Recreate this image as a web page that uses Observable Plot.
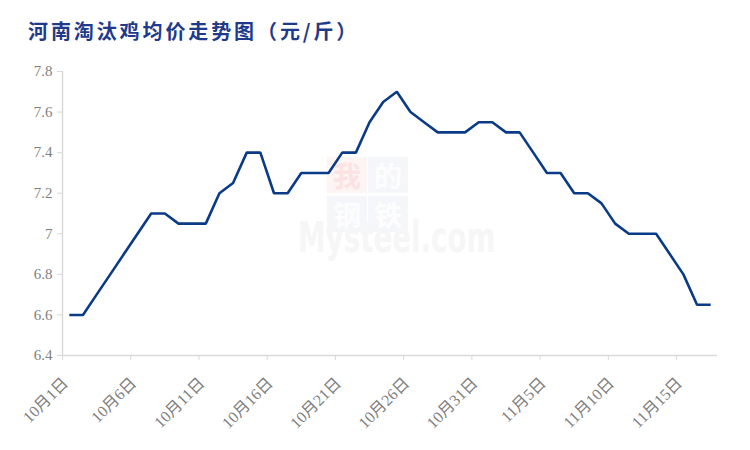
<!DOCTYPE html>
<html>
<head>
<meta charset="utf-8">
<script src="https://cdn.jsdelivr.net/npm/d3@7"></script>
<script src="https://cdn.jsdelivr.net/npm/@observablehq/plot@0.6"></script>
<style>
  html, body { margin: 0; padding: 0; background: #fff; }
  #wrap { position: relative; width: 750px; height: 450px; overflow: hidden; }
  #title { position: absolute; left: 28px; top: 19px; font-family: "Noto Sans CJK SC", sans-serif; font-weight: 700; font-size: 20px; line-height: 24px; letter-spacing: 2.9px; color: #1f3a8a; white-space: nowrap; }
  #chart { position: absolute; left: 0; top: 55px; }
  .wm { position: absolute; font-family: "Noto Sans CJK SC", sans-serif; }
  .box { width: 40px; height: 31px; padding-top: 5px; font-size: 28px; line-height: 26px; text-align: center; font-weight: 700; }
</style>
</head>
<body>
<div id="wrap">
  <div class="wm box" style="left:327px; top:157px; background:#fdf4f4; color:#fbe3e3;">我</div>
  <div class="wm box" style="left:368px; top:157px; background:#f5f6fa; color:#fdfdfe;">的</div>
  <div class="wm box" style="left:327px; top:196px; background:#f5f6fa; color:#fdfdfe;">钢</div>
  <div class="wm box" style="left:368px; top:196px; background:#f5f6fa; color:#fdfdfe;">铁</div>
  <div class="wm" style="left:298px; top:228px; font-family:'DejaVu Sans',sans-serif; font-weight:700; font-size:42px; line-height:20px; color:#f6f6f6; transform:scaleX(0.66); transform-origin:0 0; white-space:nowrap;">Mysteel.com</div>
  <div id="title">河南淘汰鸡均价走势图（元/斤）</div>
  <div id="chart"></div>
</div>
<script>
const dates = [
  "2023-10-01","2023-10-02","2023-10-03","2023-10-04","2023-10-05","2023-10-06","2023-10-07","2023-10-08",
  "2023-10-09","2023-10-10","2023-10-11","2023-10-12","2023-10-13","2023-10-14","2023-10-15","2023-10-16",
  "2023-10-17","2023-10-18","2023-10-19","2023-10-20","2023-10-21","2023-10-22","2023-10-23","2023-10-24",
  "2023-10-25","2023-10-26","2023-10-27","2023-10-28","2023-10-29","2023-10-30","2023-10-31","2023-11-01",
  "2023-11-02","2023-11-03","2023-11-04","2023-11-05","2023-11-06","2023-11-07","2023-11-08","2023-11-09",
  "2023-11-10","2023-11-11","2023-11-12","2023-11-13","2023-11-14","2023-11-15","2023-11-16","2023-11-17"
];
const prices = [
  6.6, 6.6, 6.7, 6.8, 6.9, 7.0, 7.1, 7.1,
  7.05, 7.05, 7.05, 7.2, 7.25, 7.4, 7.4, 7.2,
  7.2, 7.3, 7.3, 7.3, 7.4, 7.4, 7.55, 7.65,
  7.7, 7.6, 7.55, 7.5, 7.5, 7.5, 7.55, 7.55,
  7.5, 7.5, 7.4, 7.3, 7.3, 7.2, 7.2, 7.15,
  7.05, 7.0, 7.0, 7.0, 6.9, 6.8, 6.65, 6.65
];
const xTickDates = ["2023-10-01","2023-10-06","2023-10-11","2023-10-16","2023-10-21","2023-10-26","2023-10-31","2023-11-05","2023-11-10","2023-11-15"];
const xTickLabels = ["10月1日","10月6日","10月11日","10月16日","10月21日","10月26日","10月31日","11月5日","11月10日","11月15日"];
const yTicks = [6.4, 6.6, 6.8, 7.0, 7.2, 7.4, 7.6, 7.8];
const xDomain = ["2023-10-01", "2023-11-18"];

const parse = s => new Date(s + "T00:00:00Z");
// each day is drawn at the middle of its day slot
const data = dates.map((d, i) => ({date: new Date(parse(d).getTime() + 12 * 3600e3), price: prices[i]}));
const tickDates = xTickDates.map(parse);
const labelOf = new Map(tickDates.map((d, i) => [+d, xTickLabels[i]]));

const axisGray = "#d9d9d9";
const textGray = "#7f7f7f";

const chart = Plot.plot({
  width: 750,
  height: 395,
  marginLeft: 62,
  marginRight: 33,
  marginTop: 16,
  marginBottom: 95,
  style: {background: "transparent", overflow: "visible"},
  x: {type: "utc", domain: xDomain.map(parse), axis: null},
  y: {domain: [6.4, 7.8], axis: null},
  marks: [
    Plot.ruleY([6.4], {stroke: axisGray, strokeWidth: 1.5}),
    Plot.ruleX([parse(xDomain[0])], {stroke: axisGray, strokeWidth: 1.5}),
    Plot.axisY({
      ticks: yTicks,
      label: null,
      tickSize: 5,
      tickPadding: 5,
      stroke: axisGray,
      fill: textGray,
      fontSize: 15,
      fontFamily: "Liberation Serif, serif",
      tickFormat: d => String(Math.round(d * 10) / 10)
    }),
    // x tick marks
    Plot.axisX({
      ticks: tickDates,
      label: null,
      tickSize: 5,
      stroke: axisGray,
      tickFormat: () => ""
    }),
    // x tick labels
    Plot.axisX({
      ticks: tickDates,
      label: null,
      tickSize: 0,
      tickPadding: 25,
      tickRotate: -45,
      dx: 3,
      fill: textGray,
      fontSize: 16,
      fontFamily: "Liberation Serif, Noto Sans CJK SC, serif",
      tickFormat: d => labelOf.get(+d)
    }),
    Plot.line(data, {x: "date", y: "price", stroke: "#0a3b87", strokeWidth: 2.6, strokeLinejoin: "miter", strokeLinecap: "butt"})
  ]
});
document.getElementById("chart").appendChild(chart);
</script>
</body>
</html>
